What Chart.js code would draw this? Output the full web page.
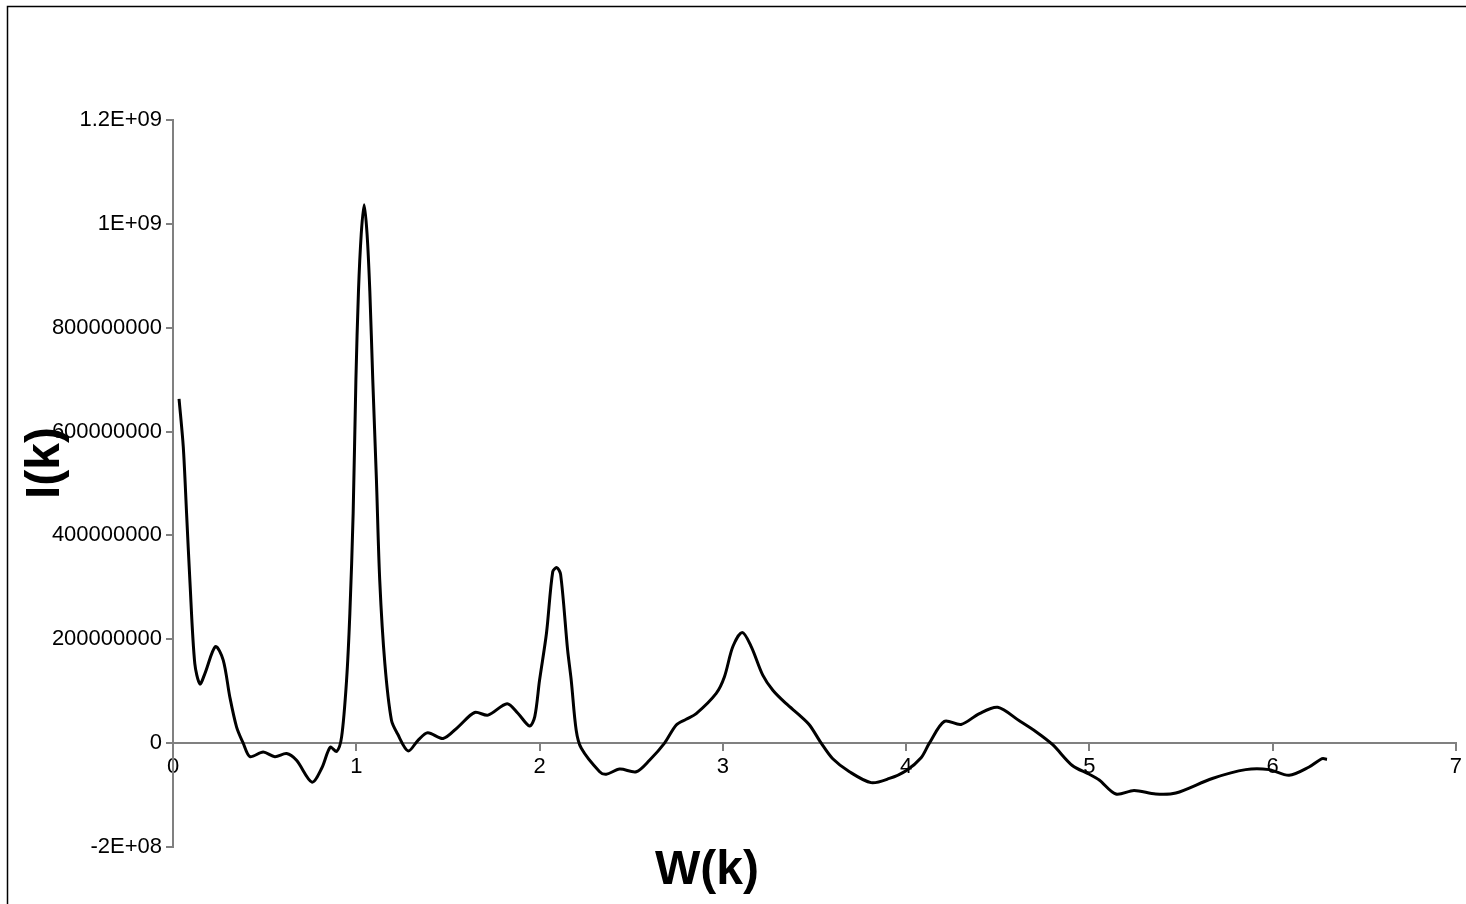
<!DOCTYPE html>
<html>
<head>
<meta charset="utf-8">
<script src="https://cdn.jsdelivr.net/npm/chart.js@4/dist/chart.umd.min.js"></script>
<style>
  body { margin: 0; background: #fff; }
  #wrap { width: 1466px; height: 904px; position: relative; }
</style>
</head>
<body>
<div id="wrap"><canvas id="spectrum" width="1466" height="904"></canvas></div>
<script>
// W(k) values
const wk = [
  0.033, 0.056, 0.074, 0.092, 0.119, 0.147, 0.174, 0.232, 0.274, 0.310,
  0.347, 0.383, 0.420, 0.492, 0.556, 0.620, 0.674, 0.758, 0.812, 0.858,
  0.893, 0.920, 0.947, 0.965, 0.983, 0.998, 1.012, 1.027, 1.043, 1.059,
  1.074, 1.090, 1.110, 1.128, 1.156, 1.192, 1.225, 1.283, 1.338,
  1.390, 1.474, 1.555, 1.646, 1.719, 1.823, 1.883, 1.946, 1.974, 2.000,
  2.038, 2.072, 2.094, 2.115, 2.153, 2.173, 2.200, 2.228, 2.328, 2.364,
  2.437, 2.528, 2.600, 2.682, 2.746, 2.800, 2.855, 2.964, 3.009, 3.055,
  3.106, 3.155, 3.218, 3.273, 3.346, 3.418, 3.473, 3.537, 3.600, 3.691,
  3.809, 3.909, 4.000, 4.082, 4.127, 4.209, 4.300, 4.400, 4.500, 4.618,
  4.709, 4.800, 4.907, 5.000, 5.054, 5.145, 5.244, 5.362, 5.472, 5.671,
  5.853, 5.981, 6.090, 6.199, 6.270, 6.297
];

// I(k) values in millions
const ikMillions = [
  663, 571, 443, 314, 153, 114, 134, 186, 160, 89,
  31, 0, -26, -17, -26, -20, -33, -75, -48, -8,
  -16, 12, 121, 250, 443, 700, 870, 980, 1037, 980,
  870, 700, 507, 314, 153, 44, 18, -15, 6,
  20, 9, 31, 59, 54, 76, 57, 33, 51, 121,
  212, 330, 338, 325, 180, 121, 25, -10, -55, -60,
  -50, -55, -33, 0, 35, 46, 57, 96, 128, 186,
  213, 186, 131, 102, 76, 54, 35, 0, -30, -55,
  -76, -68, -53, -28, 0, 42, 36, 57, 69, 43,
  22, -3, -43, -60, -71, -98, -91, -98, -96, -68,
  -51, -51, -62, -46, -30, -31
];

const yTickLabels = ['-2E+08', '0', '200000000', '400000000', '600000000',
  '800000000', '1E+09', '1.2E+09'];
const xTickLabels = ['0', '1', '2', '3', '4', '5', '6', '7'];

const points = wk.map((w, i) => ({ x: w, y: ikMillions[i] * 1e6 }));

const axisGray = '#808080';
const tickFont = { family: 'Liberation Sans, Arial, sans-serif', size: 22 };

const frameAndTitles = {
  id: 'frameAndTitles',
  afterDraw(chart) {
    const c = chart.ctx;
    c.save();
    c.strokeStyle = '#000';
    c.lineWidth = 1.5;
    c.strokeRect(7.5, 6.5, 2000, 2000);

    c.fillStyle = '#000';
    c.font = 'bold 48px Liberation Sans, Arial, sans-serif';
    c.textAlign = 'center';
    c.textBaseline = 'middle';
    c.fillText('W(k)', 707, 871);

    c.translate(46, 463);
    c.rotate(-Math.PI / 2);
    c.fillText('I(k)', 0, 0);
    c.restore();
  }
};

new Chart(document.getElementById('spectrum'), {
  type: 'scatter',
  data: {
    datasets: [{
      data: points,
      showLine: true,
      borderColor: '#000',
      borderWidth: 3,
      pointRadius: 0,
      tension: 0.3,
      fill: false
    }]
  },
  options: {
    responsive: false,
    animation: false,
    layout: { padding: { top: 120, bottom: 57, right: 9, left: 0 } },
    plugins: {
      legend: { display: false },
      tooltip: { enabled: false }
    },
    scales: {
      x: {
        type: 'linear',
        position: { y: 0 },
        min: 0,
        max: 7,
        ticks: {
          stepSize: 1,
          color: '#000',
          font: tickFont,
          padding: 4,
          maxRotation: 0,
          callback: (v, i) => xTickLabels[i]
        },
        grid: { drawOnChartArea: false, tickLength: 7, color: axisGray, lineWidth: 2 },
        border: { color: axisGray, width: 2 }
      },
      y: {
        type: 'linear',
        min: -2e8,
        max: 1.2e9,
        ticks: {
          stepSize: 2e8,
          color: '#000',
          font: tickFont,
          padding: 4,
          callback: (v, i) => yTickLabels[i]
        },
        grid: { drawOnChartArea: false, tickLength: 7, color: axisGray, lineWidth: 2 },
        border: { color: axisGray, width: 2 },
        afterFit(scale) { scale.width = 173; }
      }
    }
  },
  plugins: [frameAndTitles]
});
</script>
</body>
</html>
